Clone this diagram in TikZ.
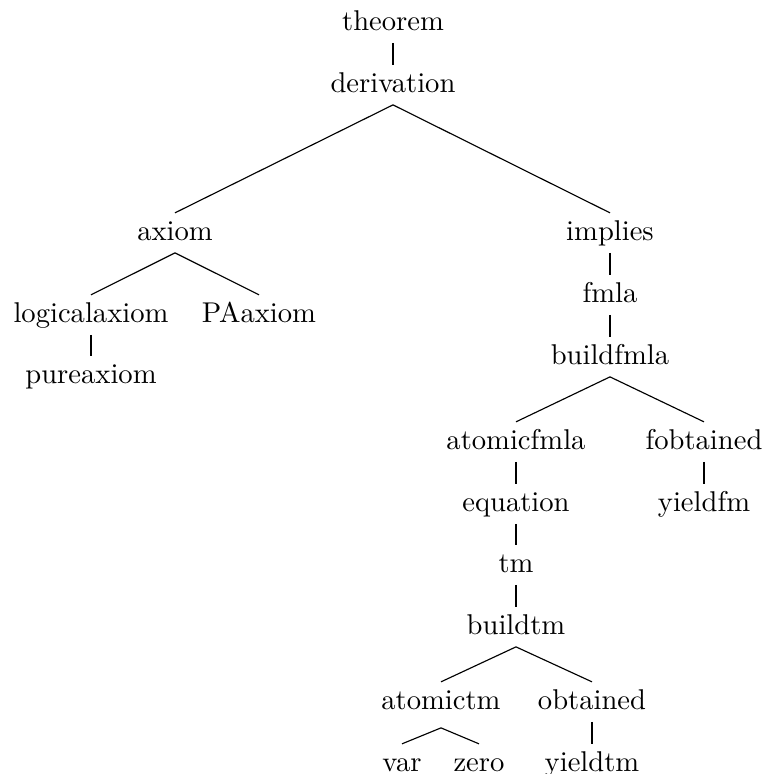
\documentclass[tikz,border=0pt]{standalone}
\begin{document}
\begin{tikzpicture}[x=0.3497pt,y=-0.3497pt,
  tn/.style={anchor=base,inner xsep=0pt,inner ysep=2.3pt,text height=7pt,text depth=2pt},
  edge/.style={line width=0.4pt}]
\useasboundingbox (0,0) rectangle (765,774);
\node[tn] (theorem) at (393,30) {theorem};
\node[tn] (derivation) at (393,92) {derivation};
\node[tn] (axiom) at (175,240) {axiom};
\node[tn] (implies) at (610,240) {implies};
\node[tn] (logicalaxiom) at (91,322) {logicalaxiom};
\node[tn] (PAaxiom) at (259,322) {PAaxiom};
\node[tn] (pureaxiom) at (91,383) {pureaxiom};
\node[tn] (fmla) at (610,302) {fmla};
\node[tn] (buildfmla) at (610,364) {buildfmla};
\node[tn] (atomicfmla) at (516,449) {atomicfmla};
\node[tn] (fobtained) at (704,449) {fobtained};
\node[tn] (equation) at (516,511) {equation};
\node[tn] (yieldfm) at (704,511) {yieldfm};
\node[tn] (tm) at (516,572) {tm};
\node[tn] (buildtm) at (516,634) {buildtm};
\node[tn] (atomictm) at (441,709) {atomictm};
\node[tn] (obtained) at (592,709) {obtained};
\node[tn] (var) at (402,771) {var};
\node[tn] (zero) at (479,771) {zero};
\node[tn] (yieldtm) at (592,771) {yieldtm};
\draw[edge] (theorem.south) -- (derivation.north);
\draw[edge] (derivation.south) -- (axiom.north);
\draw[edge] (derivation.south) -- (implies.north);
\draw[edge] (axiom.south) -- (logicalaxiom.north);
\draw[edge] (axiom.south) -- (PAaxiom.north);
\draw[edge] (logicalaxiom.south) -- (pureaxiom.north);
\draw[edge] (implies.south) -- (fmla.north);
\draw[edge] (fmla.south) -- (buildfmla.north);
\draw[edge] (buildfmla.south) -- (atomicfmla.north);
\draw[edge] (buildfmla.south) -- (fobtained.north);
\draw[edge] (atomicfmla.south) -- (equation.north);
\draw[edge] (fobtained.south) -- (yieldfm.north);
\draw[edge] (equation.south) -- (tm.north);
\draw[edge] (tm.south) -- (buildtm.north);
\draw[edge] (buildtm.south) -- (atomictm.north);
\draw[edge] (buildtm.south) -- (obtained.north);
\draw[edge] ([yshift=-6*0.3497pt]atomictm.south) -- (var.north);
\draw[edge] ([yshift=-6*0.3497pt]atomictm.south) -- (zero.north);
\draw[edge] (obtained.south) -- (yieldtm.north);
\end{tikzpicture}
\end{document}
